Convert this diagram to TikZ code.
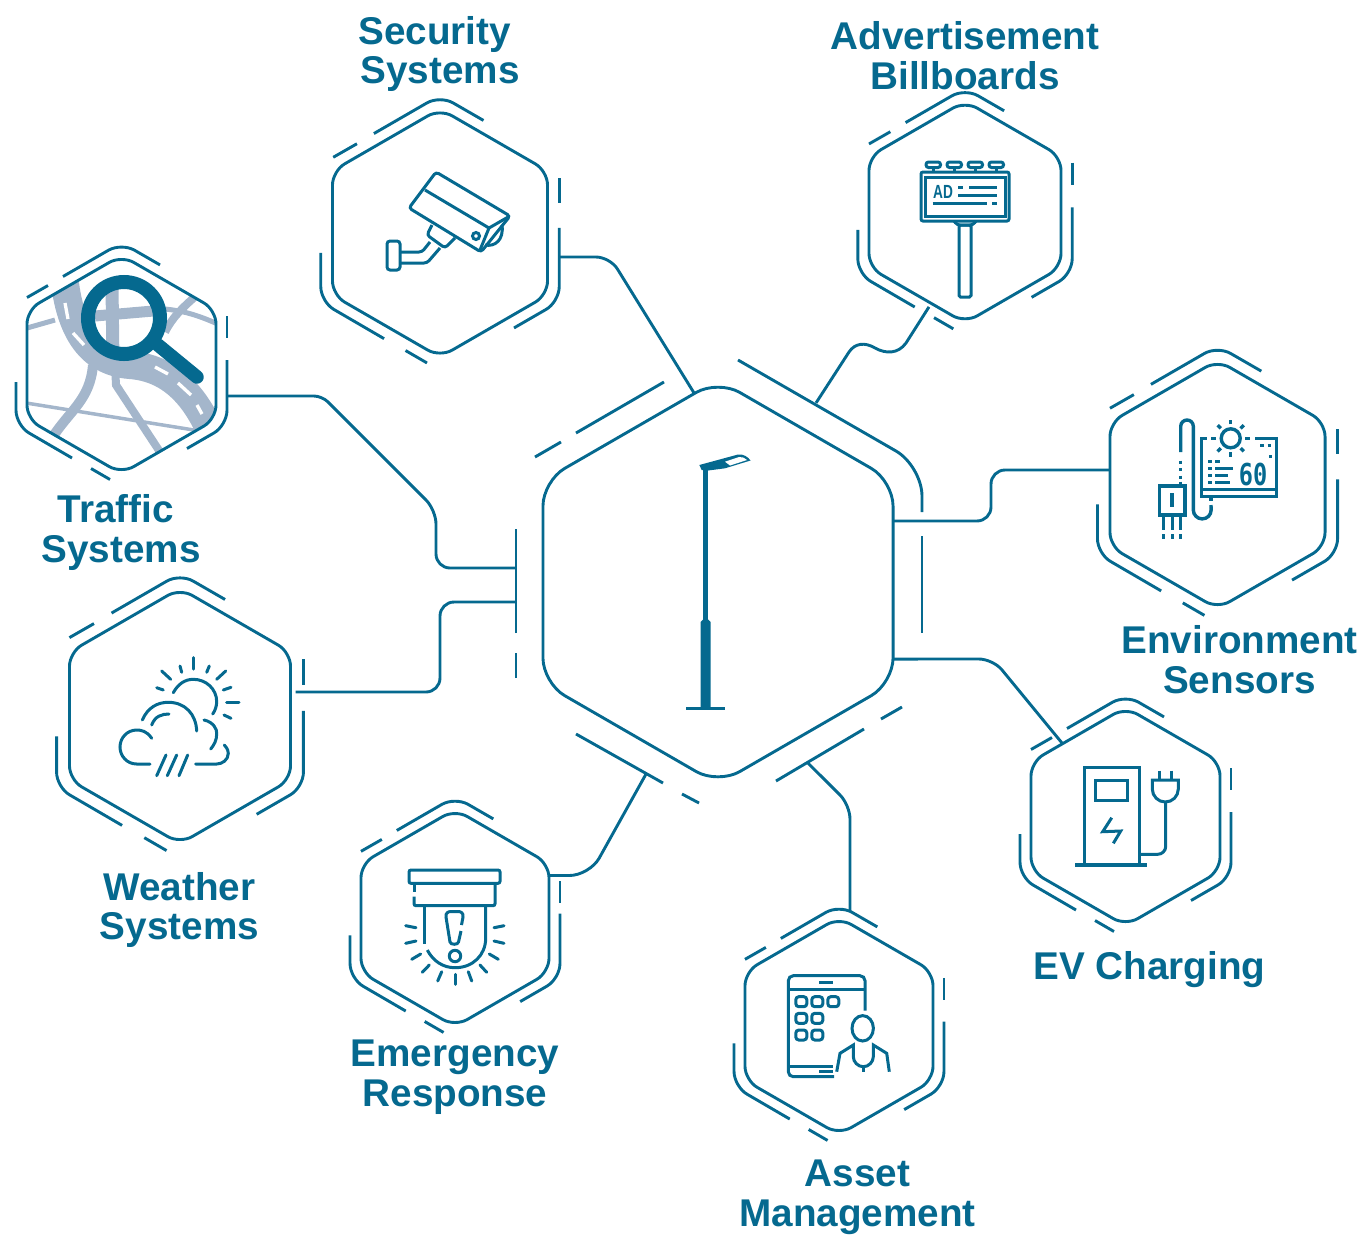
\documentclass[tikz,border=0pt]{standalone}
\usepackage{fontspec}
\setmainfont{Liberation Sans}
\newfontfamily\monofnt{DejaVu Sans Mono}
\usetikzlibrary{shapes.geometric}
\definecolor{lampblue}{HTML}{05698F}
\definecolor{roadblue}{HTML}{A4B6CB}
\tikzset{
  hexbox/.style={regular polygon, regular polygon sides=6, shape border rotate=30,
    draw=lampblue, line width=0.029cm, inner sep=0pt, outer sep=0pt,
    rounded corners=0.14cm, minimum size=#1*0.023094cm},
  ringline/.style={draw=lampblue, line width=0.029cm, rounded corners=0.15cm},
  wire/.style={draw=lampblue, line width=0.029cm, rounded corners=0.14cm},
  iconline/.style={draw=lampblue, line width=0.03cm},
  iconthick/.style={draw=lampblue, line width=0.034cm},
  road/.style={draw=roadblue},
  lbl/.style={text=lampblue, font=\fontsize{11}{11.3}\selectfont\bfseries, align=center, inner sep=0pt},
}
% broken outer ring of a small hexagon, #3 and #4 give the short dash on the right
\newcommand{\hexring}[4]{
  \begin{scope}[shift={(#1)},scale=#2]
    \draw[ringline] (-58.5,-88) -- (0,-121.8) -- (38.5,-99.6);
    \draw[ringline] (-94.5,-67) -- (-73.5,-79);
    \draw[ringline] (105.5,#3) -- (105.5,#4);
    \draw[ringline] (105.5,-4.5) -- (105.5,60.9) -- (65.5,84);
    \draw[ringline] (-105.5,17.5) -- (-105.5,60.9) -- (-49.5,93.5);
    \draw[ringline] (-30.5,104) -- (-11.5,115);
  \end{scope}
}
\begin{document}
\begin{tikzpicture}[x=0.01cm,y=-0.01cm]
  \useasboundingbox (0,0) rectangle (1364,1236);

  % road map behind the traffic hexagon %
  \begin{scope}
    \clip[rounded corners=0.14cm] (121.5,255.4) -- (216,310) -- (216,419) -- (121.5,473.6) -- (27,419) -- (27,310) -- cycle;
    \draw[road,line width=0.05cm] (20,330) -- (55,320);
    \draw[road,line width=0.05cm] (165,309) .. controls (185,311) and (200,316) .. (220,325);
    \draw[road,line width=0.11cm] (95,316) -- (165,310);
    \draw[road,line width=0.13cm] (112,285) -- (113,365);
    \draw[road,line width=0.08cm] (115,365) -- (116,385) -- (162,455);
    \draw[road,line width=0.08cm] (165,332) .. controls (172,318) and (182,308) .. (197,295);
    \draw[road,line width=0.10cm] (93,365) .. controls (90,400) and (70,410) .. (52,438);
    \draw[road,line width=0.035cm] (20,402) -- (200,431);
    \draw[road,line width=0.28cm] (63,260) .. controls (66,330) and (90,362) .. (130,365) .. controls (170,368) and (195,395) .. (212,435);
    \draw[white,line width=0.033cm] (65,303) -- (68,319);
    \draw[white,line width=0.033cm] (73,333) -- (84,345);
    \draw[white,line width=0.033cm] (155,367) -- (168,374);
    \draw[white,line width=0.033cm] (178,383) -- (191,395);
    \draw[white,line width=0.033cm] (197,405) -- (202,414);
  \end{scope}
  \draw[lampblue,line width=0.14cm] (124,318) circle (36);
  \draw[lampblue,line width=0.135cm,line cap=round] (158,345) -- (197,377);

  % hexagons %
  \node[hexbox=175,rounded corners=0.25cm] (main) at (718,582) {};
  \node[hexbox=107.5] (security) at (440,233) {};
  \node[hexbox=96] (billboard) at (965,212) {};
  \node[hexbox=107.5] (environment) at (1217.5,484.5) {};
  \node[hexbox=94.5] (charging) at (1125.5,816.5) {};
  \node[hexbox=94] (asset) at (839,1026) {};
  \node[hexbox=94] (emergency) at (455,918) {};
  \node[hexbox=110.5] (weather) at (180,716) {};
  \node[hexbox=94.5] (traffic) at (121.5,364.5) {};

  \hexring{security}{1.13}{-48.5}{-26.5}
  \hexring{billboard}{1.016}{-48.5}{-26.5}
  \hexring{environment}{1.138}{-48.5}{-26.5}
  \hexring{charging}{1}{-48.5}{-26.5}
  \hexring{asset}{0.995}{-48.5}{-26.5}
  \hexring{emergency}{0.995}{-37}{-15}
  \hexring{weather}{1.17}{-48.5}{-26.5}
  \hexring{traffic}{1}{-48.5}{-26.5}

  % outer ring of the centre %
  \draw[ringline,rounded corners=0.3cm] (738,360) -- (922,466) -- (922,512);
  \draw[ringline] (922,536) -- (922,633);
  \draw[ringline] (902,707) -- (881,719);
  \draw[ringline] (864,729) -- (776,781);
  \draw[ringline] (699,803) -- (682,794);
  \draw[ringline] (663,783) -- (576,734);
  \draw[ringline] (516,678) -- (516,653);
  \draw[ringline] (516,633) -- (516,529);
  \draw[ringline] (535,457) -- (561,442);
  \draw[ringline] (576,433) -- (664,382);

  % connectors %
  \draw[wire] ([xshift=.12cm,yshift=-.24cm]security.east) -- (610,257) -- ([xshift=-.24cm,yshift=-.13cm]main.north);
  \draw[wire,rounded corners=0] ([xshift=-.36cm,yshift=.16cm]billboard.south) -- (906,343) .. controls (898,354) and (886,354) .. (875,348) .. controls (865,342) and (855,343) .. (849,352) -- ([xshift=.98cm,yshift=-.23cm]main.north);
  \draw[wire] ([yshift=.61cm]main.east) -- (991,521) -- (991,470) -- ([yshift=.145cm]environment.west);
  \draw[wire] ([yshift=-.77cm]main.east) -- (993,659) -- ([xshift=-.635cm,yshift=-.356cm]charging.north);
  \draw[wire] ([xshift=.90cm,yshift=.21cm]main.south) -- (850,805) -- ([xshift=.11cm,yshift=.065cm]asset.north);
  \draw[wire,rounded corners=0.2cm] ([xshift=-.72cm,yshift=.10cm]main.south) -- (589.5,875.5) -- ([yshift=.425cm]emergency.east);
  \draw[wire,rounded corners=0.08cm] ([xshift=.11cm,yshift=-.315cm]traffic.east) -- (322,396) [rounded corners=0.14cm] -- (436,510) -- (436,568) -- ([xshift=-.27cm,yshift=.14cm]main.west);
  \draw[wire] ([xshift=.05cm,yshift=.24cm]weather.east) -- (440,692) -- (440,602) -- ([xshift=-.27cm,yshift=-.20cm]main.west);

  % street lamp %
  \fill[lampblue] (703.3,470) rectangle (708.3,620);
  \fill[lampblue] (700.7,708) -- (700.7,622) -- (705.7,617) -- (710.7,622) -- (710.7,708) -- cycle;
  \fill[lampblue] (686,707) rectangle (725,710);
  \fill[lampblue] (699.3,465) -- (738,454.5) .. controls (744,454) and (748,457) .. (750.5,460.5) -- (725,468.3) -- (706.7,470.7) -- (701.7,470) -- cycle;
  \fill[white] (725,461.7) -- (739,457) .. controls (742,456.5) and (745,458) .. (747,460) -- (730,465.5) -- cycle;

  % camera %
  \draw[iconline,rounded corners=0.03cm] (436,172) -- (510,216) -- (481,252) -- (409,208) -- cycle;
  \draw[iconline] (425,190) -- (489,228) -- (480,250);
  \draw[iconline] (509,216.5) -- (489,228);
  \draw[iconline] (476,236) circle (3.5);
  \draw[iconline] (502,225) .. controls (504,240) and (495,247) .. (485,245);
  \draw[iconline,rounded corners=0.03cm] (432,225) -- (427,235) -- (445,248) -- (455,238);
  \draw[iconline,rounded corners=0.03cm] (430,242) -- (422,252) -- (400,252);
  \draw[iconline,rounded corners=0.03cm] (440,248) -- (427,263) -- (400,263);
  \draw[iconline,rounded corners=0.03cm] (387,241) rectangle (400,270);

  % billboard %
  \foreach \lx in {926,947,968,989} {
    \draw[iconline,rounded corners=0.025cm] (\lx,162) rectangle (\lx+14.5,167.5);
    \draw[iconline] (\lx+7.2,167.5) -- (\lx+7.2,172);
  }
  \draw[iconline,rounded corners=0.02cm] (921,172) rectangle (1009,221);
  \draw[iconline] (925,177) rectangle (1005,216);
  \node[text=lampblue,font=\fontsize{5.4}{6}\selectfont\bfseries,inner sep=0pt,xscale=0.72] (adtext) at (943,192) {AD};
  \draw[iconline] (958,187.3) -- (963,187.3);
  \draw[iconline] (969,187.3) -- (997.3,187.3);
  \draw[iconline] (958,195) -- (997.3,195);
  \draw[iconline] (932.7,203.3) -- (987,203.3);
  \draw[iconline] (992,203.3) -- (997.3,203.3);
  \draw[iconline,rounded corners=0.03cm] (954,221) -- (957,225) -- (973,225) -- (976,221);
  \draw[iconline,rounded corners=0.015cm] (959,225) rectangle (971,297);

  % environment sensor %
  \draw[iconthick] (1230.7,438.3) circle (9.5);
  \foreach \ang in {45,90,135,225,270,315}
    \draw[iconthick] (1230.7,438.3) ++(\ang:14) -- ++(\ang:4.5);
  \draw[iconthick] (1201.7,489.3) -- (1201.7,438.3) -- (1207,438.3);
  \draw[iconthick] (1211,438.3) -- (1216,438.3);
  \draw[iconthick] (1245,438.3) -- (1250,438.3);
  \draw[iconthick] (1255,438.3) -- (1276.7,438.3) -- (1276.7,496.7) -- (1201.7,496.7) -- (1201.7,489.3) -- (1276.7,489.3);
  \draw[iconthick] (1260,445.7) -- (1264,445.7);
  \draw[iconthick] (1267.5,445.7) -- (1271,445.7);
  \draw[iconthick] (1269,456.5) -- (1272,456.5);
  \foreach \ry/\rx in {461.7/1220,468.3/1233,475.7/1228,482.3/1230} {
    \draw[iconthick] (1208.3,\ry) -- (1211.7,\ry);
    \draw[iconthick] (1215,\ry) -- (\rx,\ry);
  }
  \node[text=lampblue,font=\monofnt\fontsize{8.6}{9}\selectfont\bfseries,inner sep=0pt,xscale=0.78] (sensortext) at (1253,474) {60};
  \foreach \dy in {460.5,468,475.5,481.5}
    \draw[iconthick] (1180.7,\dy) -- (1180.7,\dy+3.2);
  \draw[iconthick] (1180.7,452) -- (1180.7,426.3) arc (180:360:6.3) -- (1193.3,510) arc (180:0:8.9) -- (1211,505);
  \draw[iconthick] (1211,497) -- (1211,501);
  \draw[iconthick] (1159.3,486) rectangle (1185,515);
  \draw[lampblue,line width=0.04cm] (1172.3,493.3) -- (1172.3,506.7);
  \foreach \dx in {1163.3,1172.3,1180.7} {
    \draw[iconthick] (\dx,515) -- (\dx,530);
    \draw[iconthick] (\dx,534) -- (\dx,538.5);
  }

  % charging post %
  \draw[lampblue,line width=0.032cm] (1075,865) -- (1147,865);
  \draw[iconline] (1084,865) -- (1084,767) -- (1139,767) -- (1139,865);
  \draw[iconline] (1095.7,780) rectangle (1127.3,800);
  \draw[iconline] (1111.7,817.7) -- (1102.7,831.7) -- (1120.7,831) -- (1113.3,843.3);
  \draw[iconline,rounded corners=0.08cm] (1139,854.3) -- (1165.7,854.3) -- (1165.7,801.7);
  \draw[iconline] (1152.3,780) -- (1152.3,789) arc (180:0:13) -- (1178.3,780) -- cycle;
  \draw[iconline] (1159,770.7) -- (1159,780);
  \draw[iconline] (1171.7,770.7) -- (1171.7,780);

  % tablet and person %
  \draw[iconline,rounded corners=0.05cm] (834,1076.7) -- (788.3,1076.7) -- (788.3,975.7) -- (865,975.7) -- (865,1010.7);
  \draw[iconline] (788.3,989.3) -- (865,989.3);
  \draw[iconline] (788.3,1066) -- (833.3,1066);
  \draw[iconline] (819,982.7) -- (833.3,982.7);
  \draw[iconline] (819,1071) -- (833.3,1071);
  \foreach \bx/\by in {801.3/1001.7,817.3/1001.7,833.3/1001.7,801.3/1018.3,817.3/1018.3,801.3/1035,817.3/1035}
    \draw[iconline,rounded corners=0.03cm] (\bx-5.5,\by-5) rectangle (\bx+5.5,\by+5);
  \draw[iconline] (862.7,1028.3) ellipse (10.7 and 12.7);
  \draw[iconline] (836.7,1071.7) -- (840,1053.3) -- (853.3,1045) -- (853.3,1056.7) .. controls (853.3,1062) and (858,1066.7) .. (863.3,1066.7) .. controls (868.6,1066.7) and (873.3,1062) .. (873.3,1056.7) -- (873.3,1045) -- (886.7,1053.3) -- (889.3,1071.7);
  \draw[iconline] (863.3,1066.7) -- (863.3,1071.7);

  % alarm %
  \draw[iconline,rounded corners=0.02cm] (409,870) rectangle (500,883.3);
  \draw[iconline] (414,883.3) -- (414,892.3);
  \draw[iconline,rounded corners=0.02cm] (414,896.7) -- (414,905.7) -- (495,905.7) -- (495,883.3);
  \draw[iconline] (424.3,905.7) -- (424.3,944.3);
  \draw[iconline] (427.3,950) .. controls (433,961) and (443,967.7) .. (455,967.7) .. controls (473,967.7) and (485.7,955) .. (485.7,938) -- (485.7,905.7);
  \draw[iconline] (461.5,925) -- (463,917) .. controls (463.5,913) and (461,911.5) .. (458,911.5) -- (451,911.5) .. controls (448,911.5) and (445.5,913) .. (446,917) -- (450,942) .. controls (450.5,945) and (458,945) .. (458.5,942) -- (461,931);
  \draw[iconline] (455,956) circle (5.7);
  \foreach \ax/\ay/\bx/\by in {405.7/925.7/416/927.7,405.7/943.3/416/941,411.7/959.3/420.7/954,422.3/972.3/429.3/965,437.7/981/441.7/971.7,455/984.3/455/974.3,471.7/981/468.3/971.7,486.7/972.3/480/965,498.3/959.3/489.3/954,504/943.3/494/941,504/925.7/494/927.7}
    \draw[iconline,line cap=round] (\ax,\ay) -- (\bx,\by);

  % weather %
  \foreach \ax/\ay/\bx/\by in {193.3/657.7/193.3/669,180/666/181.7/672.3,161.7/671/170.7/679.3,156.7/687.7/163.3/690,206.7/672.3/209.3/666,216.7/679.3/225.7/671,223.3/690/231/687.3,226.7/702.7/239/702.7,224/715/231/718.3}
    \draw[iconline,line cap=round] (\ax,\ay) -- (\bx,\by);
  \begin{scope}[line cap=round]
    \draw[iconline] (173.3,692.7) .. controls (178,684) and (185,679.3) .. (193.3,679.3) .. controls (206,679.3) and (216.7,689) .. (216.7,701.7) .. controls (216.7,706) and (215,711) .. (212.7,714);
    \draw[iconline] (142.3,720) .. controls (148,707) and (158,702.3) .. (168.3,702.3) .. controls (185,702.3) and (196,714) .. (196.7,731);
    \draw[iconline] (151.7,725) .. controls (155,716) and (162,714) .. (169,714);
    \draw[iconline] (204,720) .. controls (214,722) and (217,730) .. (216.7,733) .. controls (217,740) and (214,745) .. (210.7,749);
    \draw[iconline] (151.7,738.3) .. controls (147,731) and (141,730) .. (136.7,730) .. controls (127,730) and (120,738) .. (120,747) .. controls (120,756) and (127,764) .. (136.7,764) -- (150,764);
    \draw[iconline] (224.3,745) .. controls (228,749) and (228.3,752) .. (228.3,753.3) .. controls (228.3,760) and (222,764) .. (216.7,764) -- (195.7,764);
    \draw[iconline] (166,755) -- (156.7,775.7);
    \draw[iconline] (176.7,755) -- (167.3,775.7);
    \draw[iconline] (187.7,755) -- (179,775.7);
  \end{scope}

  % labels %
  \node[lbl] (lblsecurity) at (440,54) {Security\hbox{ }\\Systems};
  \node[lbl] (lblbillboard) at (965,55.5) {Advertisement\\Billboards};
  \node[lbl] (lblenvironment) at (1239.5,660) {Environment\\Sensors};
  \node[lbl] (lblcharging) at (1149.5,970) {EV Charging};
  \node[lbl] (lblasset) at (857.5,1197.5) {Asset\\Management};
  \node[lbl] (lblemergency) at (455,1077) {Emergency\\Response};
  \node[lbl] (lblweather) at (179.5,910) {Weather\\Systems};
  \node[lbl] (lbltraffic) at (121,532.5) {Traffic\hbox{ }\\Systems};
\end{tikzpicture}
\end{document}
